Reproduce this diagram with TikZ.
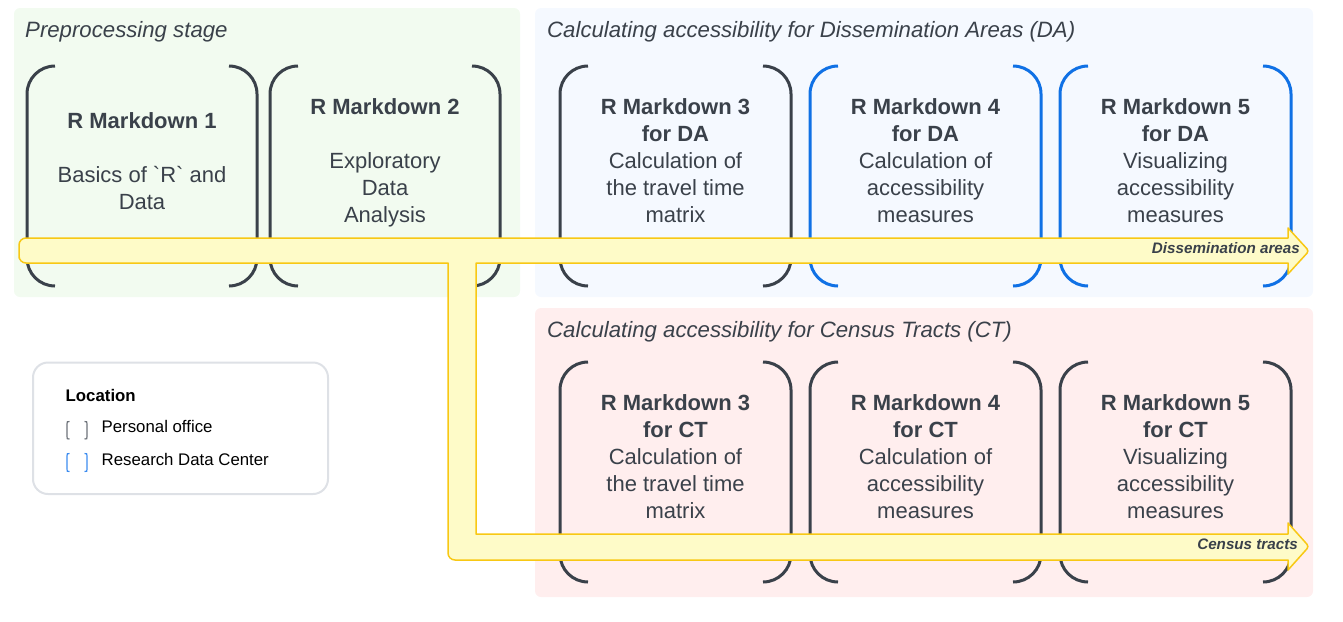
\documentclass[tikz,border=0pt]{standalone}
\usepackage{fontspec}
\setmainfont{Liberation Sans}
\newfontfamily\plainfont{Liberation Sans}
\definecolor{txt}{RGB}{58,65,74}
\definecolor{greenp}{RGB}{242,251,240}
\definecolor{bluep}{RGB}{245,249,255}
\definecolor{pinkp}{RGB}{255,238,238}
\definecolor{yfill}{RGB}{254,251,200}
\definecolor{ydraw}{RGB}{248,200,20}
\definecolor{brkdark}{RGB}{58,65,74}
\definecolor{brkblue}{RGB}{16,113,229}
\definecolor{leggray}{RGB}{110,115,122}
\definecolor{legblue}{RGB}{60,140,240}
\definecolor{legline}{RGB}{222,225,230}
\newcommand\ls{\rule[-6pt]{0pt}{24pt}}
\newcommand\bq{{\plainfont\symbol{96}}}
\newcommand\mybrackets[5]{%
  \draw[brk,#5] ({#1+28},#2) .. controls ({#1+12.5},#2) and (#1,{#2+12.5}) .. (#1,{#2+28}) -- (#1,{#4-28}) .. controls (#1,{#4-12.5}) and ({#1+12.5},#4) .. ({#1+28},#4);
  \draw[brk,#5] ({#3-28},#2) .. controls ({#3-12.5},#2) and (#3,{#2+12.5}) .. (#3,{#2+28}) -- (#3,{#4-28}) .. controls (#3,{#4-12.5}) and ({#3-12.5},#4) .. ({#3-28},#4);
}
\newcommand\legbrk[3]{%
  \draw[legbr,#3] (69.5,#1) .. controls (67,#1) .. (67,{#1+2.5}) -- (67,{#2-2.5}) .. controls (67,#2) .. (69.5,#2);
  \draw[legbr,#3] (84.5,#1) .. controls (87,#1) .. (87,{#1+2.5}) -- (87,{#2-2.5}) .. controls (87,#2) .. (84.5,#2);
}
\begin{document}
\begin{tikzpicture}[x=1pt,y=-1pt,
  brk/.style={line width=3pt},
  legbr/.style={line width=1.2pt},
  panel/.style={rounded corners=6pt},
  boxtxt/.style={font=\fontsize{22}{27}\selectfont, align=center, text=txt, inner sep=0pt, anchor=center},
  ptitle/.style={font=\fontsize{22.2}{27}\selectfont\itshape, text=txt, inner sep=0pt, anchor=base west},
  legtxt/.style={font=\fontsize{16.8}{20}\selectfont, text=black, inner sep=0pt, anchor=base west},
  arrlabel/.style={font=\fontsize{15.2}{18}\selectfont\bfseries\itshape, text=txt, inner sep=0pt, anchor=base east},
  yarrow/.style={fill=yfill, draw=ydraw, line width=1.5pt, line join=round}
]
\useasboundingbox (0,0) rectangle (1343,621);
% panels
\fill[greenp,panel] (14,8) rectangle (520,297);
\fill[bluep,panel] (535,8) rectangle (1313,297);
\fill[pinkp,panel] (535,308) rectangle (1313,597);
% brackets
\mybrackets{27}{66}{257}{286}{brkdark}
\mybrackets{270}{66}{500}{286}{brkdark}
\mybrackets{560}{66}{791}{286}{brkdark}
\mybrackets{810}{66}{1041}{286}{brkblue}
\mybrackets{1060}{66}{1291}{286}{brkblue}
\mybrackets{560}{362}{791}{582}{brkdark}
\mybrackets{810}{362}{1041}{582}{brkdark}
\mybrackets{1060}{362}{1291}{582}{brkdark}
% yellow arrows
\draw[yarrow] (19,251) [rounded corners=7pt] -- (19,238) -- (60,238) [sharp corners] -- (1288,238) -- (1288,228) -- (1298.5,239.5) [rounded corners=3pt] -- (1309,251) -- (1298.5,262.5) [sharp corners] -- (1288,274) -- (1288,263) -- (476,263) -- (476,534) -- (1288,534) -- (1288,523) -- (1298.5,534.75) [rounded corners=3pt] -- (1309,546.5) -- (1298.5,558.25) [sharp corners] -- (1288,570) -- (1288,560) -- (500,560) [rounded corners=7pt] -- (448,560) -- (448,500) [sharp corners] -- (448,263) -- (60,263) [rounded corners=7pt] -- (19,263) -- cycle;
\node[arrlabel] (lblda) at (1300,253.5) {Dissemination areas};
\node[arrlabel] (lblct) at (1298,549.5) {Census tracts};
% titles
\node[ptitle] (tpre) at (25,37) {Preprocessing stage};
\node[ptitle] (tda) at (547,37) {Calculating accessibility for Dissemination Areas (DA)};
\node[ptitle] (tct) at (547,337) {Calculating accessibility for Census Tracts (CT)};
% box texts
\node[boxtxt] (rm1) at (142,162.5) {\ls\textbf{R Markdown 1}\\\ls\\\ls Basics of \bq R\bq{} and\\\ls Data};
\node[boxtxt] (rm2) at (385,162) {\ls\textbf{R Markdown 2}\\\ls\\\ls Exploratory\\\ls Data\\\ls Analysis};
\node[boxtxt] (rm3da) at (675.5,162) {\ls\textbf{R Markdown 3}\\\ls\textbf{for DA}\\\ls Calculation of\\\ls the travel time\\\ls matrix};
\node[boxtxt] (rm4da) at (925.5,162) {\ls\textbf{R Markdown 4}\\\ls\textbf{for DA}\\\ls Calculation of\\\ls accessibility\\\ls measures};
\node[boxtxt] (rm5da) at (1175.5,162) {\ls\textbf{R Markdown 5}\\\ls\textbf{for DA}\\\ls Visualizing\\\ls accessibility\\\ls measures};
\node[boxtxt] (rm3ct) at (675.5,458) {\ls\textbf{R Markdown 3}\\\ls\textbf{for CT}\\\ls Calculation of\\\ls the travel time\\\ls matrix};
\node[boxtxt] (rm4ct) at (925.5,458) {\ls\textbf{R Markdown 4}\\\ls\textbf{for CT}\\\ls Calculation of\\\ls accessibility\\\ls measures};
\node[boxtxt] (rm5ct) at (1175.5,458) {\ls\textbf{R Markdown 5}\\\ls\textbf{for CT}\\\ls Visualizing\\\ls accessibility\\\ls measures};
% legend
\draw[draw=legline, line width=2pt, fill=white, rounded corners=15pt] (33,362.5) rectangle (328,494);
\node[legtxt,font=\fontsize{16.8}{20}\selectfont\bfseries] (legtitle) at (65.5,401.5) {Location};
\legbrk{421.5}{439}{leggray}
\node[legtxt] (legpo) at (101.5,432.5) {Personal office};
\legbrk{453.5}{471.5}{legblue}
\node[legtxt] (legrdc) at (101.5,465) {Research Data Center};
\end{tikzpicture}
\end{document}
